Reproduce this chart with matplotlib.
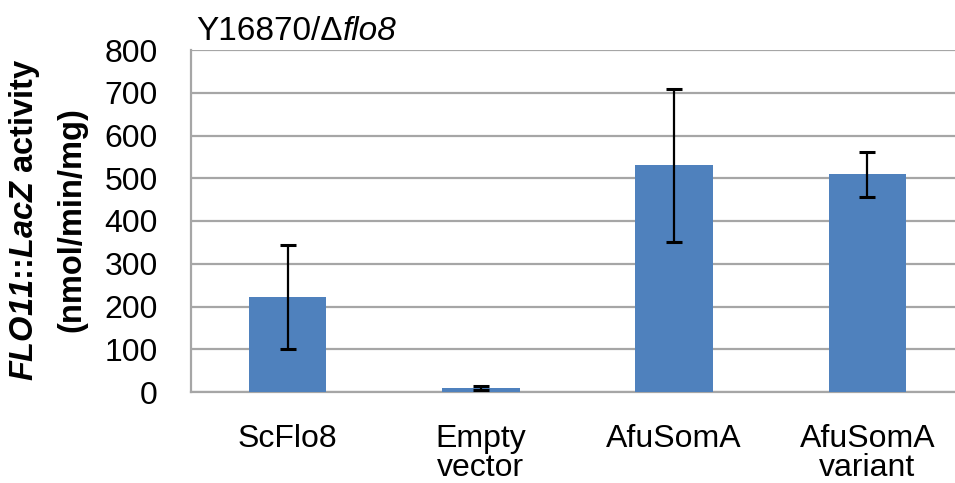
import numpy as np
import matplotlib as mpl
from matplotlib import pyplot as plt

# Werte
kategorien = ["ScFlo8", "Empty\nvector", "AfuSomA", "AfuSomA\nvariant"]
aktivitaet = [222, 10, 530, 509]
fehler = [122, 5, 178, 52]
y_ticks = [0, 100, 200, 300, 400, 500, 600, 700, 800]

mpl.rcParams['font.family'] = ['Liberation Sans', 'DejaVu Sans']
mpl.rcParams['mathtext.fontset'] = 'custom'
mpl.rcParams['mathtext.rm'] = 'Liberation Sans'
mpl.rcParams['mathtext.it'] = 'Liberation Sans:italic'
mpl.rcParams['mathtext.bf'] = 'Liberation Sans:bold'
mpl.rcParams['mathtext.bfit'] = 'Liberation Sans:bold:italic'

fig = plt.figure(figsize=(9.55, 4.83), dpi=100)
ax = fig.add_axes([191/955, 1 - 392/483, 773/955, 342/483])

x = np.arange(len(kategorien))
ax.bar(x, aktivitaet, width=0.4, color="#4f81bd", zorder=3)
ax.errorbar(x, aktivitaet, yerr=fehler, fmt="none", ecolor="black",
            elinewidth=1.6, capsize=6, capthick=2.2, zorder=4)

ax.set_xlim(-0.5, 3.5)
ax.set_ylim(0, 800)
ax.set_yticks(y_ticks)
ax.set_xticks(x)
ax.set_xticklabels(kategorien, fontsize=23, linespacing=0.98)
ax.tick_params(axis="y", labelsize=23, length=0, pad=24)
ax.tick_params(axis="x", length=0, pad=23)

ax.grid(axis="y", color="#a6a6a6", linewidth=1.6, zorder=0)
for s in ["top", "right"]:
    ax.spines[s].set_visible(False)
ax.spines["left"].set_color("#a6a6a6")
ax.spines["left"].set_linewidth(1.6)
ax.spines["bottom"].set_color("#a6a6a6")
ax.spines["bottom"].set_linewidth(1.6)

# Titel: Stamm normal, Gen kursiv
t1 = fig.text(196/955, 1 - 40/483, "Y16870/\u0394", fontsize=24,
              ha="left", va="baseline")
ax.annotate("flo8", xy=(1, 0), xycoords=t1, fontsize=24, style="italic",
            ha="left", va="bottom", annotation_clip=False)

fig.text(25/955, 1 - 220/483, r"$\mathbfit{FLO11}$::$\mathbfit{LacZ}$ activity",
         fontsize=23.5, fontweight="bold", rotation=90, ha="center", va="center")
fig.text(72/955, 1 - 220/483, "(nmol/min/mg)", fontsize=23.5, fontweight="bold",
         rotation=90, ha="center", va="center")

fig.savefig("out.png", dpi=100)
